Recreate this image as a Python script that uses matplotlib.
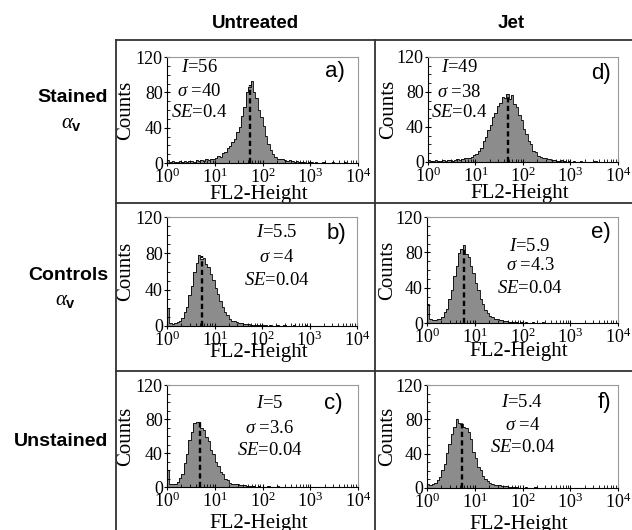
import numpy as np
import matplotlib
matplotlib.use("Agg")
import matplotlib.pyplot as plt
from matplotlib.lines import Line2D
from matplotlib.ticker import LogLocator, LogFormatterSciNotation

plt.rcParams["font.family"] = ["Liberation Serif", "DejaVu Serif"]
plt.rcParams["mathtext.fontset"] = "custom"
plt.rcParams["mathtext.rm"] = "Liberation Serif"
plt.rcParams["mathtext.it"] = "Liberation Serif:italic"
plt.rcParams["mathtext.bf"] = "Liberation Sans:bold"

W, H = 632, 530

# -----------------------
# Histogram counts, 0.05-decade bins from 10^0 to 10^4 (20 bins per decade)
# -----------------------
counts_a = [3, 1, 2, 1, 1, 2, 1, 2, 1, 2, 2, 1, 3, 2, 3, 2, 4, 3, 5, 4,
            6, 8, 7, 11, 13, 17, 19, 24, 27, 35, 41, 53, 63, 80, 86, 93, 80, 74, 60, 52,
            42, 31, 22, 15, 10, 7, 5, 4, 4, 3, 2, 3, 2, 1, 2, 1, 1, 1, 0, 1,
            1, 0, 1, 0, 0, 1, 0, 0, 0, 1, 0, 0, 0, 0, 1, 0, 0, 0, 0, 0]
counts_b = [20, 3, 2, 3, 4, 6, 9, 15, 21, 34, 44, 59, 69, 78, 74, 75, 68, 65, 57, 51,
            42, 35, 27, 21, 15, 12, 8, 6, 5, 4, 3, 3, 2, 2, 2, 1, 1, 1, 1, 1,
            1, 1, 0, 1, 0, 0, 1, 0, 0, 1, 0, 0, 0, 1, 0, 0, 0, 0, 1, 0,
            0, 0, 0, 0, 0, 0, 0, 0, 0, 0, 0, 0, 0, 0, 0, 0, 0, 0, 0, 0]
counts_c = [20, 3, 3, 4, 6, 11, 15, 28, 39, 55, 65, 75, 76, 77, 70, 67, 59, 54, 44, 39,
            30, 25, 18, 15, 10, 8, 5, 4, 3, 3, 2, 2, 2, 1, 1, 1, 1, 0, 1, 0,
            0, 0, 1, 0, 0, 0, 1, 0, 0, 0, 0, 0, 0, 0, 0, 0, 0, 0, 0, 0,
            0, 0, 0, 0, 0, 0, 0, 0, 0, 0, 0, 0, 0, 0, 0, 0, 0, 0, 0, 0]
counts_d = [2, 1, 1, 2, 1, 1, 2, 1, 2, 2, 1, 2, 3, 2, 3, 4, 4, 5, 6, 8,
            9, 13, 16, 24, 29, 37, 42, 51, 56, 64, 67, 74, 73, 78, 72, 76, 66, 63, 54, 48,
            38, 32, 24, 20, 13, 11, 7, 6, 5, 4, 3, 3, 2, 2, 1, 1, 2, 1, 0, 1,
            0, 1, 0, 0, 1, 0, 0, 0, 0, 0, 1, 0, 0, 0, 0, 0, 0, 0, 0, 0]
counts_e = [22, 4, 3, 3, 4, 5, 7, 12, 16, 27, 37, 53, 65, 79, 84, 88, 78, 75, 65, 57,
            45, 37, 27, 22, 15, 11, 8, 7, 5, 4, 3, 3, 2, 2, 1, 1, 1, 1, 0, 1,
            0, 1, 0, 0, 1, 0, 0, 0, 1, 0, 0, 0, 0, 0, 0, 0, 0, 0, 0, 0,
            0, 0, 0, 0, 0, 0, 0, 0, 0, 0, 0, 0, 0, 0, 0, 0, 0, 0, 0, 0]
counts_f = [5, 4, 5, 6, 9, 13, 21, 28, 41, 51, 63, 71, 80, 76, 75, 71, 70, 65, 57, 42,
            35, 25, 21, 14, 11, 8, 6, 5, 4, 3, 3, 2, 2, 2, 1, 1, 1, 1, 0, 0,
            0, 1, 0, 0, 0, 1, 0, 0, 0, 0, 0, 0, 0, 0, 0, 0, 0, 0, 0, 0,
            0, 0, 0, 0, 0, 0, 0, 0, 0, 0, 0, 0, 0, 0, 0, 0, 0, 0, 0, 0]

letters = ["a)", "b)", "c)", "d)", "e)", "f)"]
mean_I = [56, 5.5, 5, 49, 5.9, 5.4]
sigma = ["40", "4", "3.6", "38", "4.3", "4"]
se = ["0.4", "0.04", "0.04", "0.4", "0.04", "0.04"]
mean_I_txt = ["56", "5.5", "5", "49", "5.9", "5.4"]
dash_top = [88, 77, 76, 76, 86, 77]

col_titles = ["Untreated", "Jet"]
row_titles = ["Stained", "Controls", "Unstained"]

all_counts = [counts_a, counts_b, counts_c, counts_d, counts_e, counts_f]
edges = 10 ** (np.arange(81) * 0.05)

# -----------------------
# Layout (pixel boxes: left, top, right, bottom)
# -----------------------
boxes = [(167, 57, 358, 163), (167, 217, 357, 326), (167, 385, 358, 487),
         (428, 57, 618, 162), (427, 217, 618, 323), (427, 385, 618, 488)]
xlab_y = [-0.21, -0.16, -0.26, -0.21, -0.18, -0.26]
stat_x = [0.17, 0.58, 0.54, 0.165, 0.54, 0.50]
stat_y = [(0.90, 0.67, 0.48), (0.86, 0.63, 0.42), (0.82, 0.57, 0.36),
          (0.90, 0.66, 0.47), (0.72, 0.54, 0.33), (0.83, 0.61, 0.39)]
letter_pos = [(0.88, 0.86), (0.89, 0.85), (0.87, 0.82),
              (0.91, 0.84), (0.91, 0.85), (0.93, 0.83)]


def fx(x):
    return x / W


def fy(y):
    return 1 - y / H


fig = plt.figure(figsize=(W / 100, H / 100), dpi=100)

# grid frame
grid_kw = dict(color="#333333", lw=1.3, transform=fig.transFigure)
fig.add_artist(Line2D([fx(116), fx(116)], [fy(40), fy(530)], **grid_kw))
fig.add_artist(Line2D([fx(375), fx(375)], [fy(40), fy(530)], **grid_kw))
for yy in [40, 203, 371]:
    fig.add_artist(Line2D([fx(116), fx(632)], [fy(yy), fy(yy)], **grid_kw))

for i, (l, t, r, b) in enumerate(boxes):
    ax = fig.add_axes([fx(l), fy(b), (r - l) / W, (b - t) / H])
    ax.stairs(all_counts[i], edges, fill=True, color="#8c8c8c", lw=0)
    ax.stairs(all_counts[i], edges, color="black", lw=0.6)
    ax.vlines(mean_I[i], 0, dash_top[i], colors="black", lw=1.7,
              linestyles=(0, (2.2, 1.4)))

    ax.set_xscale("log")
    ax.set_xlim(1, 1e4)
    ax.set_xticks([1, 10, 100, 1000, 10000])
    ax.xaxis.set_major_formatter(LogFormatterSciNotation())
    ax.xaxis.set_minor_locator(LogLocator(base=10, subs=np.arange(2, 10), numticks=20))
    ax.set_ylim(0, 120)
    ax.set_yticks([0, 40, 80, 120])
    ax.set_yticks(np.arange(0, 121, 10), minor=True)
    ax.tick_params(which="major", direction="inout", length=4, width=0.8,
                   labelsize=13, pad=1)
    ax.tick_params(which="minor", direction="in", length=2, width=0.6)
    for s in ["left", "bottom"]:
        ax.spines[s].set_color("black")
        ax.spines[s].set_linewidth(0.8)
    for s in ["top", "right"]:
        ax.spines[s].set_color("#999999")
        ax.spines[s].set_linewidth(0.8)

    ax.set_ylabel("Counts", fontsize=15)
    ax.yaxis.set_label_coords(-0.168 if i < 3 else -0.158, 0.5)
    ax.set_xlabel("FL2-Height", fontsize=15)
    ax.xaxis.set_label_coords(0.48, xlab_y[i])

    sx = stat_x[i]
    y1, y2, y3 = stat_y[i]
    ax.text(sx, y1, r"$I$=" + mean_I_txt[i], transform=ax.transAxes,
            ha="center", va="center", fontsize=13.5)
    ax.text(sx, y2, r"$\sigma$ =" + sigma[i], transform=ax.transAxes,
            ha="center", va="center", fontsize=13.5)
    ax.text(sx, y3, r"$SE$=" + se[i], transform=ax.transAxes,
            ha="center", va="center", fontsize=13.5)
    ax.text(letter_pos[i][0], letter_pos[i][1], letters[i], transform=ax.transAxes,
            ha="center", va="center", fontsize=16, family="Liberation Sans")

# column titles
for x, s in zip([255, 511], col_titles):
    fig.text(fx(x), fy(23), s, ha="center", va="center", fontsize=13.5,
             weight="bold", family="Liberation Sans")

# row titles
for y, s in zip([97, 276, 442], row_titles):
    fig.text(fx(108), fy(y), s, ha="right", va="center", fontsize=14,
             weight="bold", family="Liberation Sans")
for x, y in [(72, 123), (66, 300)]:
    fig.text(fx(x), fy(y), r"$\alpha_{\mathbf{v}}$", ha="center", va="center",
             fontsize=15)

plt.savefig("out.png", dpi=100)
